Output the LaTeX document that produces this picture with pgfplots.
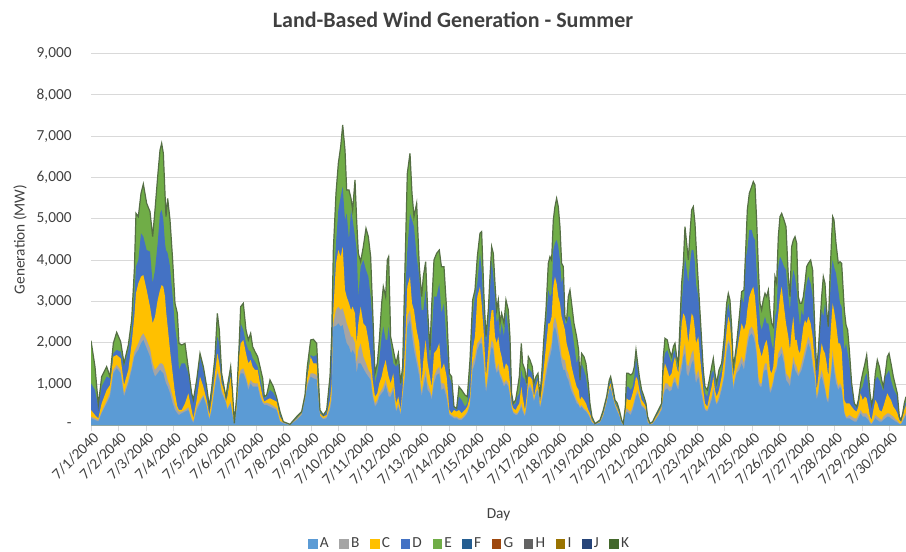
\documentclass[border=0pt]{standalone}
\usepackage{fontspec}
\setmainfont{Carlito}
\usepackage{pgfplots}
\usepackage{pgfplotstable}
\pgfplotsset{compat=1.18}
\definecolor{cA}{HTML}{5B9BD5}
\definecolor{cB}{HTML}{A5A5A5}
\definecolor{cC}{HTML}{FFC000}
\definecolor{cD}{HTML}{4472C4}
\definecolor{cE}{HTML}{70AD47}
\definecolor{cF}{HTML}{255E91}
\definecolor{cG}{HTML}{9E480E}
\definecolor{cH}{HTML}{636363}
\definecolor{cI}{HTML}{997300}
\definecolor{cJ}{HTML}{264478}
\definecolor{cK}{HTML}{43682B}
\definecolor{gridc}{HTML}{D9D9D9}
\definecolor{txt}{HTML}{404040}
% cumulative tops of the stacked layers (MW): A, A+B, A+B+C, A+...+D, total
\pgfplotstableread{
d A B C D T
0.000 173 214 375 1020 2053
0.145 133 173 254 859 1423
0.266 93 133 173 456 496
0.387 294 335 536 940 1182
0.569 536 601 859 1182 1423
0.690 698 778 980 1141 1182
0.811 1262 1343 1665 1746 1988
0.932 1383 1464 1706 1827 2254
1.077 1262 1343 1625 1786 2028
1.198 698 778 980 1423 1504
1.355 1020 1101 1343 1827 1948
1.476 1343 1423 1988 2311 2553
1.573 1665 1786 2633 3117 3762
1.633 1746 1867 3198 3843 5133
1.718 1827 1988 3440 4004 5053
1.815 1988 2149 3601 4649 5617
1.900 2069 2230 3641 4569 5843
2.021 1867 2069 3278 4246 5375
2.142 1665 1867 2875 4206 5174
2.238 1343 1504 2472 3440 4569
2.323 1182 1343 2633 3762 5214
2.420 1262 1423 3036 4408 6020
2.505 1343 1504 3278 5133 6666
2.565 1302 1504 3399 5214 6827
2.626 1262 1464 3359 4972 6585
2.686 1101 1343 3117 4408 5617
2.722 1020 1262 2794 4246 5053
2.783 940 1101 2391 4166 5496
2.868 778 940 1827 3843 4972
2.964 536 698 1262 3117 4004
3.049 375 496 778 2391 2956
3.134 294 375 456 1988 2714
3.194 254 335 375 1343 1988
3.291 294 335 375 1504 1948
3.412 335 375 536 1504 1988
3.533 375 440 778 1262 1383
3.654 133 173 375 738 778
3.714 52 93 173 536 617
3.836 375 456 617 1020 1101
3.957 536 617 1182 1665 1746
4.078 698 738 940 1343 1423
4.199 456 496 617 859 940
4.295 133 173 254 375 456
4.380 375 415 617 778 899
4.501 940 1020 1262 1504 1665
4.586 1262 1343 1746 2149 2714
4.658 1101 1182 1504 1988 2311
4.743 778 859 1020 1182 1262
4.828 657 714 859 899 940
4.900 536 577 617 657 681
4.949 375 415 698 778 940
5.070 536 577 1182 1343 1423
5.142 214 254 698 738 778
5.203 12 20 28 36 52
5.287 375 415 536 617 698
5.372 1101 1182 1665 1827 1867
5.432 1262 1343 1988 2472 2875
5.529 1262 1383 2069 2311 2956
5.626 1101 1182 1746 1988 2311
5.711 859 956 1504 1827 2069
5.796 1020 1101 1585 1786 2230
5.868 940 1036 1423 1625 1907
5.953 940 1020 1343 1544 1786
6.050 940 1020 1343 1423 1665
6.135 698 778 1020 1182 1423
6.231 536 577 698 859 1141
6.292 496 536 577 657 698
6.376 496 552 617 698 738
6.497 456 520 657 859 1101
6.618 415 472 617 794 940
6.739 375 415 577 633 681
6.860 93 117 214 278 335
6.981 52 69 77 85 93
7.223 12 20 20 28 28
7.465 133 149 165 181 214
7.647 254 278 294 310 335
7.768 617 649 681 698 738
7.852 940 1020 1182 1262 1423
7.973 1182 1262 1665 1706 2069
8.070 1141 1262 1504 1665 2085
8.191 1117 1222 1504 1706 1988
8.251 657 698 778 940 1182
8.312 230 254 294 335 375
8.433 149 173 214 230 254
8.554 173 214 254 335 375
8.675 375 456 617 1020 1182
8.736 617 778 1020 2069 2149
8.797 2391 2472 2794 3278 4246
8.893 2407 2794 3924 4408 5617
8.978 2472 2875 4246 5214 6343
9.063 2391 2794 4085 5537 6746
9.136 2432 2835 4327 5779 7271
9.220 2149 2633 3278 4972 6666
9.281 1988 2472 3117 5133 5698
9.365 1907 2311 2956 4488 5698
9.438 1746 2149 2794 5214 5496
9.498 1827 2149 2875 4972 5214
9.583 1706 1988 2714 4569 5940
9.643 1262 1504 1988 4246 4972
9.704 1504 1827 2472 3117 4166
9.788 1504 1988 2875 3843 3964
9.885 1383 1665 2472 4004 4327
9.982 1262 1504 2391 3762 4770
10.067 1182 1343 2069 3601 4569
10.151 1101 1262 1665 3117 4085
10.224 698 778 1101 2472 2794
10.309 456 536 698 1020 1262
10.393 536 617 778 1262 1504
10.466 698 778 1020 1585 2069
10.551 778 859 1182 2149 2956
10.611 819 940 1383 2391 3359
10.696 980 1101 1585 2069 3117
10.756 819 940 1343 2069 4004
10.805 698 819 1182 2391 4085
10.877 698 778 1020 1988 2149
10.974 859 940 1262 1504 1827
11.071 335 375 536 1423 1504
11.156 456 536 698 1504 1746
11.240 254 294 375 940 1020
11.313 698 778 940 1182 1423
11.398 1182 1262 1907 3117 3843
11.482 2391 2633 3359 4246 6101
11.579 2553 2794 3601 5133 6585
11.652 2149 2391 2956 4972 5617
11.724 1827 2069 2794 4811 5053
11.821 1504 1665 2311 4085 5375
11.918 1182 1343 1988 3601 3843
12.002 698 778 1020 2794 3117
12.063 940 1101 1585 2794 3601
12.148 1182 1343 2069 3278 3964
12.220 859 1020 1504 2472 2794
12.305 778 859 1182 1504 1827
12.365 617 698 940 2149 2875
12.450 1020 1182 1746 3117 4004
12.547 1222 1343 1827 3117 4166
12.643 1262 1423 1988 3440 4246
12.720 859 1020 1343 2714 3843
12.813 899 1020 1504 2956 3843
12.910 657 778 1182 1988 2794
13.007 254 294 375 1182 1262
13.091 214 254 294 1020 1182
13.176 173 214 375 431 456
13.273 173 214 335 375 415
13.357 133 173 375 698 940
13.454 133 173 294 617 859
13.575 214 254 375 456 738
13.660 294 335 456 536 698
13.757 496 536 698 1182 1585
13.853 1343 1504 1827 2633 3036
13.938 1504 1665 2149 3117 3278
14.023 1827 1988 3117 3440 4085
14.119 1988 2069 3359 4166 4649
14.180 1988 2149 2956 3762 4690
14.265 1423 1585 2149 2633 3117
14.337 778 859 1182 1988 2149
14.422 1182 1343 1827 2472 2794
14.483 1665 1827 2472 3278 3601
14.543 1907 2069 2794 4004 4327
14.604 1827 1988 2794 3601 4166
14.664 1423 1585 2149 3117 3440
14.725 1262 1343 1988 2472 2794
14.785 1343 1504 2149 2633 3036
14.846 1182 1262 1827 2149 2472
14.906 1101 1182 1665 2472 2714
14.991 940 1020 1343 2149 2472
15.063 1020 1101 1504 2794 3036
15.148 940 1020 1423 2311 2794
15.208 698 778 1020 1988 2149
15.269 415 456 536 698 778
15.329 294 335 415 496 536
15.414 254 294 375 536 617
15.474 254 294 456 698 859
15.547 335 375 536 778 1182
15.620 456 536 940 1343 1988
15.668 335 415 698 1182 1504
15.753 214 254 375 1101 1343
15.813 456 536 698 940 1020
15.874 859 940 1182 1383 1665
15.934 940 1020 1182 1343 1585
16.019 778 859 1101 1262 1423
16.079 577 617 698 940 1020
16.152 778 819 940 1101 1182
16.225 859 899 1101 1182 1262
16.297 415 456 536 657 698
16.370 617 698 940 1182 1343
16.442 859 1020 1423 1988 2149
16.515 1182 1343 1907 2472 2794
16.600 1504 1665 2472 3278 3924
16.660 1665 1827 2472 3117 4085
16.720 1827 1988 2633 3198 4004
16.781 2270 2472 3359 4246 4972
16.841 2391 2633 3601 4408 5295
16.902 2230 2472 3440 4488 5496
16.962 1988 2230 3117 4327 5295
17.023 1746 1988 2956 4004 4811
17.083 1504 1665 2633 3440 3924
17.144 1343 1585 2472 3601 3843
17.204 1343 1585 2311 2472 2633
17.265 1182 1343 1988 2472 2553
17.325 1101 1262 1827 2633 3117
17.386 940 1101 1665 2633 3278
17.446 819 940 1423 2391 2956
17.531 698 778 1182 1988 2472
17.628 536 617 940 1504 2149
17.700 496 536 859 1665 1827
17.749 415 456 617 1020 1101
17.809 456 496 698 1504 1746
17.894 375 415 617 1343 1665
17.966 335 375 536 1182 1504
18.051 254 294 375 778 1020
18.111 173 214 294 456 536
18.184 69 93 133 173 214
18.294 20 28 28 36 44
18.475 69 77 93 109 133
18.596 230 254 294 335 375
18.717 536 577 617 657 698
18.814 859 875 940 1020 1101
18.862 899 940 1020 1101 1182
18.935 698 714 778 859 940
19.020 472 496 536 577 617
19.104 335 375 415 456 536
19.177 230 254 294 335 375
19.262 52 69 85 109 133
19.322 20 28 36 44 52
19.395 254 294 375 415 456
19.444 335 415 657 940 1262
19.504 310 375 617 940 1262
19.589 254 335 617 859 1222
19.662 375 456 778 940 1262
19.722 536 617 940 1182 1423
19.783 698 778 1182 1665 1827
19.843 778 859 1101 1343 1504
19.904 657 698 859 1020 1182
19.988 456 496 617 778 859
20.073 415 456 536 617 698
20.145 335 375 456 496 536
20.206 69 93 133 173 214
20.291 20 28 36 44 52
20.387 36 52 69 77 93
20.472 117 133 173 198 214
20.593 230 254 294 335 375
20.714 375 415 456 496 536
20.775 698 778 1262 1504 1665
20.835 859 1020 1504 1746 2109
20.920 899 1020 1343 1827 2069
20.992 819 940 1182 1665 1827
21.077 859 940 1262 1504 1665
21.138 1020 1101 1504 1746 1907
21.198 1061 1182 1665 1827 1988
21.259 940 1020 1423 1504 1665
21.319 859 940 1262 1343 1504
21.380 1182 1343 1827 2149 2472
21.440 1343 1504 2472 2956 3440
21.501 1665 1827 2714 3440 3924
21.561 1746 1988 2633 4085 4811
21.622 1262 1504 2391 3762 4408
21.682 1182 1423 1988 3440 4004
21.743 1343 1585 2391 3924 4649
21.803 1504 1746 2714 4246 5214
21.864 1585 1827 2633 4246 5295
21.924 1182 1423 2311 3924 4895
21.960 1020 1182 1988 3440 4408
22.045 1182 1343 2149 3117 3440
22.130 859 1020 1504 2391 2472
22.226 536 617 859 1182 1343
22.287 375 415 536 778 940
22.371 335 375 456 698 859
22.444 456 536 698 940 1101
22.529 617 698 940 1262 1423
22.589 859 940 1182 1343 1625
22.650 617 698 859 1101 1262
22.710 496 536 698 859 1020
22.795 617 698 859 1182 1343
22.892 859 940 1182 1343 1504
22.988 1182 1262 1665 1988 2149
23.073 1746 1907 2311 2714 2956
23.134 1988 2069 2633 2956 3198
23.194 1907 1988 2472 2714 3036
23.255 1423 1504 1988 2069 2391
23.315 859 940 1182 1262 1423
23.376 1101 1182 1423 1504 1665
23.436 1262 1343 1746 1907 1988
23.533 1343 1504 2149 2472 2633
23.618 1504 1665 2472 3117 3238
23.702 1343 1504 2311 2956 3278
23.775 1665 1827 2472 4085 4408
23.823 1907 2069 2794 4246 5214
23.896 2149 2311 3117 4730 5617
23.981 2230 2391 3278 4730 5779
24.041 2149 2311 3359 4569 5900
24.102 1988 2149 3117 4488 5819
24.162 1665 1827 2633 3762 4972
24.223 1020 1182 1988 3117 3843
24.283 940 1020 1827 2472 2956
24.344 940 1020 1665 2311 2794
24.404 1262 1343 1827 2472 3036
24.465 1343 1504 1988 2633 3198
24.525 1343 1504 2069 2472 3117
24.586 1101 1182 1827 2472 3278
24.646 778 859 1343 2230 2794
24.707 859 940 1262 1988 2472
24.767 1020 1101 1423 1827 2391
24.828 1262 1343 1988 2633 3601
24.888 1343 1423 2391 2794 3440
24.949 1625 1746 2714 3843 4569
25.009 1665 1827 3117 4085 5053
25.070 1746 1907 3359 4004 5133
25.155 1504 1665 2875 3843 4972
25.228 1101 1262 2472 3762 4811
25.312 1020 1182 2149 3117 3601
25.373 940 1101 1827 2794 3117
25.433 1262 1343 2311 3440 4327
25.494 1504 1665 2633 3762 4488
25.554 1343 1504 2069 3601 4569
25.615 1262 1423 2069 3278 4408
25.675 1182 1262 1827 2794 3117
25.736 1262 1343 1746 2391 2956
25.796 1343 1504 2069 2794 2956
25.857 1504 1665 2391 2633 3117
25.917 1665 1827 2547 3198 3440
25.978 1827 1988 2472 3440 3843
26.038 1988 2149 2633 3601 3924
26.123 1827 1988 2472 3440 4004
26.195 1423 1585 2149 3117 3762
26.280 1101 1182 1504 1988 2230
26.341 617 698 859 1262 1343
26.401 778 859 1182 1746 1827
26.462 1101 1182 1665 2311 2472
26.522 1182 1343 1988 2794 3117
26.583 1020 1182 1827 2633 3601
26.643 859 940 1746 2956 3440
26.704 617 698 1504 2633 2794
26.764 536 617 1182 2311 2391
26.825 1020 1101 1988 3117 3601
26.885 1343 1504 2633 3843 4569
26.922 1665 1827 2956 4004 5053
26.970 1343 1504 2794 3843 4972
27.043 1020 1182 2472 3681 4408
27.127 859 940 1988 3278 3924
27.188 940 1020 1988 2956 3964
27.248 859 940 1827 2875 3924
27.345 294 335 617 1827 2794
27.406 173 214 536 1988 2432
27.466 173 214 536 1746 2311
27.527 173 254 536 1504 1827
27.611 133 214 456 940 1020
27.708 93 173 375 496 536
27.793 93 173 335 415 456
27.853 173 254 456 536 617
27.938 294 375 778 859 1020
28.011 214 294 617 940 1262
28.095 214 294 698 1182 1504
28.156 173 294 657 1262 1706
28.216 133 214 456 940 1262
28.277 52 93 214 617 778
28.337 28 52 133 456 496
28.398 93 133 375 617 698
28.470 173 254 617 1101 1262
28.543 133 214 536 1182 1585
28.616 93 173 375 1101 1423
28.700 93 133 335 940 1101
28.761 133 214 456 819 940
28.833 173 254 617 1182 1262
28.906 214 294 778 1262 1665
28.967 214 294 698 1343 1746
29.039 173 254 617 1101 1504
29.124 133 214 456 899 1182
29.209 93 149 375 778 940
29.269 69 117 294 698 778
29.342 36 52 133 198 214
29.402 28 44 93 117 133
29.463 93 133 214 254 294
29.523 173 230 375 456 536
29.584 254 310 496 577 698
}\wind

\begin{document}
\begin{tikzpicture}
\useasboundingbox (0pt,0pt) rectangle (679.5pt,414pt);
\node[font=\bfseries\fontsize{16.5}{19}\selectfont, text=txt] at (339.75pt,399pt) {Land-Based Wind Generation - Summer};
\begin{axis}[
  at={(68.25pt,94.875pt)}, anchor=south west,
  scale only axis, width=611.25pt, height=279pt,
  xmin=0, xmax=29.584, ymin=0, ymax=9000,
  axis lines*=left,
  x axis line style={draw=gridc, line width=0.75pt},
  y axis line style={draw=none},
  xtick={0,...,29},
  xticklabels={7/1/2040,7/2/2040,7/3/2040,7/4/2040,7/5/2040,7/6/2040,7/7/2040,7/8/2040,7/9/2040,7/10/2040,7/11/2040,7/12/2040,7/13/2040,7/14/2040,7/15/2040,7/16/2040,7/17/2040,7/18/2040,7/19/2040,7/20/2040,7/21/2040,7/22/2040,7/23/2040,7/24/2040,7/25/2040,7/26/2040,7/27/2040,7/28/2040,7/29/2040,7/30/2040},
  xticklabel style={rotate=45, anchor=east, inner sep=1pt, xshift=1.5pt, yshift=-5pt, font=\fontsize{11.5}{13}\selectfont, text=txt},
  tick align=outside, major tick length=4pt,
  xtick style={draw=gridc, line width=0.75pt},
  ytick={0,1000,...,9000},
  yticklabels={{-\hspace{8pt}},{1,000},{2,000},{3,000},{4,000},{5,000},{6,000},{7,000},{8,000},{9,000}},
  ytick style={draw=none},
  yticklabel style={anchor=east, xshift=-7pt, font=\fontsize{11.5}{13}\selectfont, text=txt},
  ymajorgrids, grid style={draw=gridc, line width=0.75pt},
  ylabel={Generation (MW)},
  ylabel style={at={(axis description cs:-0.0871,0.5)}, anchor=center, font=\fontsize{11.5}{13}\selectfont, text=txt},
  xlabel={Day},
  xlabel style={at={(axis description cs:0.5,-0.2406)}, anchor=center, font=\fontsize{11.5}{13}\selectfont, text=txt},
  legend columns=11,
  legend style={at={(axis description cs:0.465,-0.3185)}, anchor=center, draw=none, fill=none,
    font=\fontsize{11.5}{13}\selectfont, text=txt,
    /tikz/every even column/.append style={column sep=6pt}},
]
\addplot[fill=cE, draw=none, forget plot] table[x=d, y=T] {\wind} \closedcycle;
\addplot[fill=cD, draw=none, forget plot] table[x=d, y=D] {\wind} \closedcycle;
\addplot[fill=cC, draw=none, forget plot] table[x=d, y=C] {\wind} \closedcycle;
\addplot[fill=cB, draw=none, forget plot] table[x=d, y=B] {\wind} \closedcycle;
\addplot[fill=cA, draw=none, forget plot] table[x=d, y=A] {\wind} \closedcycle;
\addplot[draw=cK!70!gray, line width=0.9pt, forget plot] table[x=d, y=T] {\wind};
\addlegendimage{legend image code/.code={\fill[cA] (0pt,-3.2pt) rectangle (6.4pt,3.2pt);}}
\addlegendentry{A}
\addlegendimage{legend image code/.code={\fill[cB] (0pt,-3.2pt) rectangle (6.4pt,3.2pt);}}
\addlegendentry{B}
\addlegendimage{legend image code/.code={\fill[cC] (0pt,-3.2pt) rectangle (6.4pt,3.2pt);}}
\addlegendentry{C}
\addlegendimage{legend image code/.code={\fill[cD] (0pt,-3.2pt) rectangle (6.4pt,3.2pt);}}
\addlegendentry{D}
\addlegendimage{legend image code/.code={\fill[cE] (0pt,-3.2pt) rectangle (6.4pt,3.2pt);}}
\addlegendentry{E}
\addlegendimage{legend image code/.code={\fill[cF] (0pt,-3.2pt) rectangle (6.4pt,3.2pt);}}
\addlegendentry{F}
\addlegendimage{legend image code/.code={\fill[cG] (0pt,-3.2pt) rectangle (6.4pt,3.2pt);}}
\addlegendentry{G}
\addlegendimage{legend image code/.code={\fill[cH] (0pt,-3.2pt) rectangle (6.4pt,3.2pt);}}
\addlegendentry{H}
\addlegendimage{legend image code/.code={\fill[cI] (0pt,-3.2pt) rectangle (6.4pt,3.2pt);}}
\addlegendentry{I}
\addlegendimage{legend image code/.code={\fill[cJ] (0pt,-3.2pt) rectangle (6.4pt,3.2pt);}}
\addlegendentry{J}
\addlegendimage{legend image code/.code={\fill[cK] (0pt,-3.2pt) rectangle (6.4pt,3.2pt);}}
\addlegendentry{K}
\end{axis}
\end{tikzpicture}
\end{document}
